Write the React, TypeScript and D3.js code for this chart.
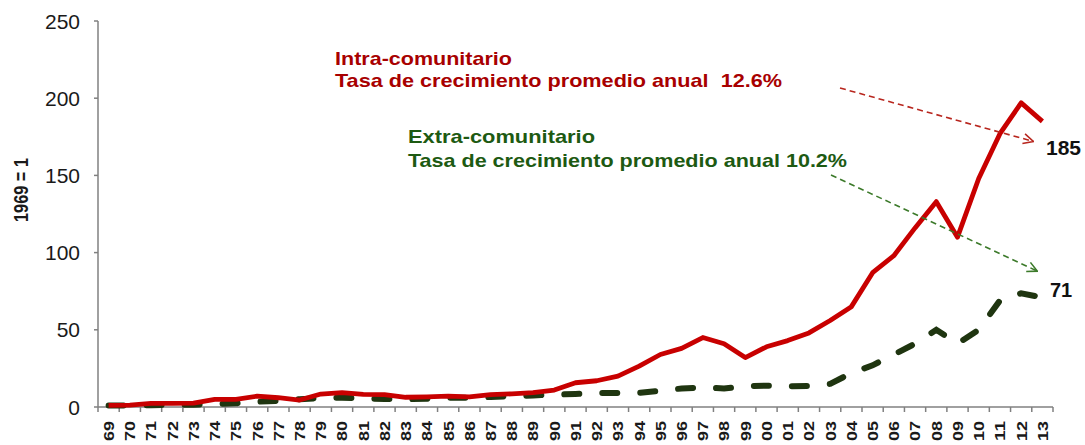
import { useEffect, useRef } from 'react';
import * as d3 from 'd3';

const years = [
  '69', '70', '71', '72', '73', '74', '75', '76', '77', '78', '79', '80', '81', '82', '83',
  '84', '85', '86', '87', '88', '89', '90', '91', '92', '93', '94', '95', '96', '97', '98',
  '99', '00', '01', '02', '03', '04', '05', '06', '07', '08', '09', '10', '11', '12', '13',
];

const intra = [
  1, 1.2, 2.4, 2.4, 2.5, 5, 5, 7, 6, 4.5, 8.4, 9.3, 8.2, 8, 6.3,
  6.5, 7, 6.5, 8, 8.5, 9.3, 11, 15.7, 17, 20, 26.5, 34, 38, 45, 41,
  32, 39, 43, 48, 56, 65, 87, 98, 116, 133, 110, 148, 177, 197, 185,
];

const extra = [
  1, 1, 1.2, 1.3, 1.5, 2, 2.4, 3.4, 4, 5, 5.8, 6, 5.6, 5.2, 5,
  5.4, 6, 6, 6.5, 7, 7.5, 8, 8.4, 9, 9, 9.2, 10.5, 12, 12.6, 12,
  13.5, 13.8, 13.5, 13.6, 15, 22, 27, 34, 41, 50, 41, 50, 69, 73.6, 71,
];

const yTicks = [0, 50, 100, 150, 200, 250];

const FONT = 'Liberation Sans, Arial, sans-serif';

export default function App() {
  const svgRef = useRef<SVGSVGElement>(null);

  useEffect(() => {
    const svg = d3.select(svgRef.current);
    svg.selectAll('*').remove();

    const left = 98, right = 1053, top = 21, bottom = 407;

    const x = d3.scaleBand().domain(years).range([left, right]).padding(0);
    const y = d3.scaleLinear().domain([0, 250]).range([bottom, top]);
    const cx = (i: number) => x(years[i])! + x.bandwidth() / 2;

    // arrow markers
    const defs = svg.append('defs');
    const marker = (id: string, color: string) => {
      defs.append('marker')
        .attr('id', id)
        .attr('viewBox', '0 0 12 12')
        .attr('refX', 11).attr('refY', 6)
        .attr('markerWidth', 12).attr('markerHeight', 12)
        .attr('markerUnits', 'userSpaceOnUse')
        .attr('orient', 'auto')
        .append('path')
        .attr('d', 'M1,1 L11,6 L1,11')
        .attr('fill', 'none')
        .attr('stroke', color)
        .attr('stroke-width', 1.6);
    };
    marker('arrRed', '#b8261e');
    marker('arrGreen', '#3c7a2a');

    // y axis
    svg.append('line')
      .attr('x1', left).attr('x2', left).attr('y1', top).attr('y2', bottom)
      .attr('stroke', '#808080').attr('stroke-width', 1.5);
    yTicks.forEach(t => {
      svg.append('line')
        .attr('x1', left - 4).attr('x2', left).attr('y1', y(t)).attr('y2', y(t))
        .attr('stroke', '#808080').attr('stroke-width', 1.5);
      svg.append('text')
        .attr('x', 80).attr('y', y(t)).attr('dy', '0.36em')
        .attr('text-anchor', 'end')
        .style('font-family', FONT).style('font-size', '21px').attr('fill', '#1a1a1a')
        .text(t);
    });

    // x axis
    svg.append('line')
      .attr('x1', left).attr('x2', right).attr('y1', bottom).attr('y2', bottom)
      .attr('stroke', '#808080').attr('stroke-width', 1.5);
    years.forEach((yr, i) => {
      const bx = x(yr)!;
      svg.append('line')
        .attr('x1', bx).attr('x2', bx).attr('y1', bottom).attr('y2', bottom + 5)
        .attr('stroke', '#808080').attr('stroke-width', 1.5);
      if (i === years.length - 1) {
        svg.append('line')
          .attr('x1', bx + x.bandwidth()).attr('x2', bx + x.bandwidth())
          .attr('y1', bottom).attr('y2', bottom + 5)
          .attr('stroke', '#808080').attr('stroke-width', 1.5);
      }
      svg.append('text')
        .attr('transform', `translate(${cx(i)},421) rotate(-90)`)
        .attr('dy', '0.36em')
        .attr('text-anchor', 'end')
        .attr('textLength', 20).attr('lengthAdjust', 'spacingAndGlyphs')
        .style('font-family', FONT).style('font-size', '15px').style('font-weight', 'bold')
        .attr('fill', '#1a1a1a')
        .text(yr);
    });

    // y title
    svg.append('text')
      .attr('transform', 'translate(20,190) rotate(-90)')
      .attr('dy', '0.36em')
      .attr('text-anchor', 'middle')
      .attr('textLength', 64).attr('lengthAdjust', 'spacingAndGlyphs')
      .style('font-family', FONT).style('font-size', '21px').style('font-weight', 'bold')
      .attr('fill', '#1a1a1a')
      .text('1969 = 1');

    const line = d3.line<number>().x((_, i) => cx(i)).y(d => y(d));

    svg.append('path')
      .datum(extra)
      .attr('d', line)
      .attr('fill', 'none')
      .attr('stroke', '#1f3510')
      .attr('stroke-width', 6)
      .attr('stroke-dasharray', '15 23')
      .attr('stroke-linecap', 'round');

    svg.append('path')
      .datum(intra)
      .attr('d', line)
      .attr('fill', 'none')
      .attr('stroke', '#c80000')
      .attr('stroke-width', 4.8)
      .attr('stroke-linejoin', 'round');

    // annotations
    const note = (tx: number, ty: number, txt: string, len: number, color: string) => {
      svg.append('text')
        .attr('x', tx).attr('y', ty)
        .attr('textLength', len).attr('lengthAdjust', 'spacingAndGlyphs')
        .style('font-family', FONT).style('font-size', '19px').style('font-weight', 'bold')
        .style('white-space', 'pre')
        .attr('fill', color)
        .text(txt);
    };
    note(335, 65, 'Intra-comunitario', 177, '#a80000');
    note(335, 87, 'Tasa de crecimiento promedio anual  12.6%', 447, '#a80000');
    note(408, 143, 'Extra-comunitario', 187, '#1d5a12');
    note(408, 167, 'Tasa de crecimiento promedio anual 10.2%', 439, '#1d5a12');

    const last = years.length - 1;
    svg.append('line')
      .attr('x1', 840).attr('y1', 88)
      .attr('x2', cx(last) - 9).attr('y2', y(172))
      .attr('stroke', '#b8261e').attr('stroke-width', 1.6)
      .attr('stroke-dasharray', '6 4')
      .attr('marker-end', 'url(#arrRed)');
    svg.append('line')
      .attr('x1', 831).attr('y1', 175)
      .attr('x2', cx(last) - 5).attr('y2', y(88))
      .attr('stroke', '#3c7a2a').attr('stroke-width', 1.6)
      .attr('stroke-dasharray', '6 4')
      .attr('marker-end', 'url(#arrGreen)');

    svg.append('text')
      .attr('x', 1046).attr('y', 155)
      .style('font-family', FONT).style('font-size', '21px').style('font-weight', 'bold')
      .attr('fill', '#111')
      .text(intra[last]);
    svg.append('text')
      .attr('x', 1050).attr('y', 297)
      .style('font-family', FONT).style('font-size', '20px').style('font-weight', 'bold')
      .attr('fill', '#111')
      .text(extra[last]);
  }, []);

  return (
    <svg
      ref={svgRef}
      width={1085}
      height={445}
      style={{ position: 'absolute', left: 0, top: 0, background: '#fff' }}
    />
  );
}
